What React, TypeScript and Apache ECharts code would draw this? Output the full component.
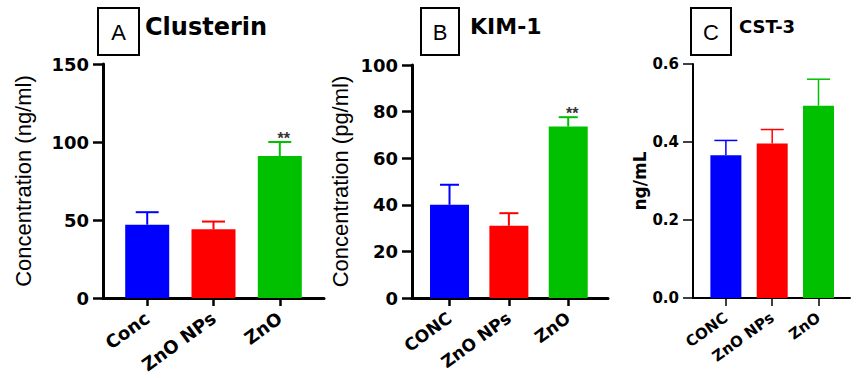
import React, { useEffect, useRef } from "react";
import * as echarts from "echarts";

// ---- data ----
const categoriesA = ["Conc", "ZnO NPs", "ZnO"];
const categoriesBC = ["CONC", "ZnO NPs", "ZnO"];
const positions = [0, 1, 2];
const barColors = ["#0000FF", "#FF0000", "#00C000"];

const clusterinMean = [47, 44, 91];
const clusterinErr = [8, 5, 9];
const clusterinSig = ["", "", "**"];

const kim1Mean = [40, 31, 73.6];
const kim1Err = [8.6, 5.4, 4];
const kim1Sig = ["", "", "**"];

const cst3Mean = [0.366, 0.396, 0.493];
const cst3Err = [0.038, 0.036, 0.068];
const cst3Sig = ["", "", ""];

const panelTitles = ["Clusterin", "KIM-1", "CST-3"];
const panelLetters = ["A", "B", "C"];
const yNames = ["Concentration (ng/ml)", "Concentration (pg/ml)", "ng/mL"];

const BOLD = "DejaVu Sans";
const REG = "Liberation Sans";

function errorRenderer(capWidth: number, lineWidth: number, sig: string[]) {
  return (params: any, api: any) => {
    const x = api.value(0);
    const m = api.value(1);
    const e = api.value(2);
    const base = api.coord([x, m]);
    const top = api.coord([x, m + e]);
    const color = barColors[params.dataIndex];
    const children: any[] = [
      {
        type: "line",
        shape: { x1: base[0], y1: base[1], x2: top[0], y2: top[1] },
        style: { stroke: color, lineWidth },
      },
      {
        type: "line",
        shape: { x1: top[0] - capWidth / 2, y1: top[1], x2: top[0] + capWidth / 2, y2: top[1] },
        style: { stroke: color, lineWidth },
      },
    ];
    const s = sig[params.dataIndex];
    if (s) {
      children.push({
        type: "text",
        x: top[0] + 4,
        y: top[1] - 4,
        style: {
          text: s,
          fill: "#333",
          font: "bold 16px 'Liberation Sans'",
          textAlign: "center",
          textVerticalAlign: "middle",
        },
      });
    }
    return { type: "group", children };
  };
}

export default function App() {
  const ref = useRef<HTMLDivElement>(null);
  useEffect(() => {
    if (!ref.current) return;
    const chart = echarts.init(ref.current, null, { renderer: "svg" });

    const panels = [
      {
        grid: { left: 103, top: 64, width: 221, height: 234 },
        xmin: -0.667, xmax: 2.667,
        ymin: 0, ymax: 150, interval: 50,
        cats: categoriesA, mean: clusterinMean, err: clusterinErr, sig: clusterinSig,
        barWidth: 44, cap: 23, axisW: 3, errW: 2,
        tickFont: 18, catFont: 18, nameFont: 22, nameBold: false, nameGap: 69,
        fmt: (v: number) => String(v),
      },
      {
        grid: { left: 412, top: 65, width: 196, height: 233 },
        xmin: -0.632, xmax: 2.67,
        ymin: 0, ymax: 100, interval: 20,
        cats: categoriesBC, mean: kim1Mean, err: kim1Err, sig: kim1Sig,
        barWidth: 39, cap: 19, axisW: 3, errW: 2,
        tickFont: 18, catFont: 17, nameFont: 22, nameBold: false, nameGap: 61,
        fmt: (v: number) => String(v),
      },
      {
        grid: { left: 693, top: 64, width: 157, height: 234 },
        xmin: -0.71, xmax: 2.68,
        ymin: 0, ymax: 0.6, interval: 0.2,
        cats: categoriesBC, mean: cst3Mean, err: cst3Err, sig: cst3Sig,
        barWidth: 31, cap: 23, axisW: 2, errW: 1.5,
        tickFont: 15, catFont: 15, nameFont: 17, nameBold: true, nameGap: 44,
        fmt: (v: number) => v.toFixed(1),
      },
    ];

    const grid: any[] = [];
    const xAxis: any[] = [];
    const yAxis: any[] = [];
    const series: any[] = [];

    panels.forEach((p, i) => {
      grid.push({ ...p.grid, containLabel: false });
      xAxis.push({
        type: "value",
        gridIndex: i,
        min: p.xmin,
        max: p.xmax,
        splitLine: { show: false },
        axisLine: { show: true, onZero: false, lineStyle: { color: "#000", width: p.axisW } },
        axisTick: {
          show: true,
          customValues: positions,
          length: 8,
          lineStyle: { color: "#000", width: p.axisW - 0.5 },
        },
        axisLabel: {
          show: true,
          customValues: positions,
          formatter: (v: number) => p.cats[Math.round(v)] ?? "",
          rotate: 36,
          margin: 18,
          color: "#000",
          fontFamily: BOLD,
          fontWeight: "bold",
          fontSize: p.catFont,
        },
      });
      yAxis.push({
        type: "value",
        gridIndex: i,
        min: p.ymin,
        max: p.ymax,
        interval: p.interval,
        name: yNames[i],
        nameLocation: "middle",
        nameGap: p.nameGap,
        nameRotate: 90,
        nameTextStyle: {
          color: "#000",
          fontFamily: p.nameBold ? BOLD : REG,
          fontWeight: p.nameBold ? "bold" : "normal",
          fontSize: p.nameFont,
        },
        splitLine: { show: false },
        axisLine: { show: true, onZero: false, lineStyle: { color: "#000", width: p.axisW } },
        axisTick: { show: true, length: 10, lineStyle: { color: "#000", width: p.axisW - 0.5 } },
        axisLabel: {
          color: "#000",
          fontFamily: BOLD,
          fontWeight: "bold",
          fontSize: p.tickFont,
          margin: 14,
          formatter: p.fmt,
        },
      });
      series.push({
        type: "bar",
        xAxisIndex: i,
        yAxisIndex: i,
        barWidth: p.barWidth,
        data: positions.map((x, k) => ({
          value: [x, p.mean[k]],
          itemStyle: { color: barColors[k] },
        })),
      });
      series.push({
        type: "custom",
        xAxisIndex: i,
        yAxisIndex: i,
        clip: false,
        z: 5,
        renderItem: errorRenderer(p.cap, p.errW, p.sig),
        data: positions.map((x, k) => [x, p.mean[k], p.err[k]]),
      });
    });

    const boxes = [
      { x: 97, w: 41 },
      { x: 420, w: 38 },
      { x: 690, w: 40 },
    ];
    const graphic: any[] = [];
    boxes.forEach((b, i) => {
      graphic.push({
        type: "rect",
        left: b.x,
        top: 7,
        shape: { width: b.w, height: 47 },
        style: { fill: "#fff", stroke: "#000", lineWidth: 2 },
      });
      graphic.push({
        type: "text",
        x: b.x + b.w / 2 + 1,
        y: 32,
        style: {
          text: panelLetters[i],
          font: "22px 'Liberation Sans'",
          fill: "#000",
          textAlign: "center",
          textVerticalAlign: "middle",
        },
      });
    });

    const title = [
      { text: panelTitles[0], left: 145, top: 15, size: 24 },
      { text: panelTitles[1], left: 470, top: 15, size: 22 },
      { text: panelTitles[2], left: 739, top: 17, size: 18 },
    ].map((t) => ({
      text: t.text,
      left: t.left,
      top: t.top,
      padding: 0,
      textStyle: { fontFamily: BOLD, fontWeight: "bold", fontSize: t.size, color: "#000" },
    }));

    chart.setOption({
      animation: false,
      backgroundColor: "#fff",
      title,
      grid,
      xAxis,
      yAxis,
      series,
      graphic,
    });
    return () => chart.dispose();
  }, []);
  return (
    <div
      ref={ref}
      style={{ position: "absolute", left: 0, top: 0, width: 862, height: 378 }}
    />
  );
}
